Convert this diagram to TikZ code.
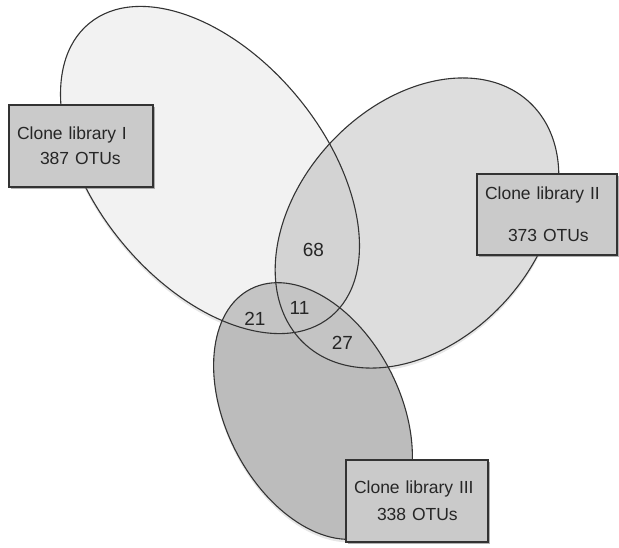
\documentclass[tikz,border=0pt]{standalone}
\usepackage{fontspec}
\setmainfont{Liberation Sans}
\usetikzlibrary{shadows}

\definecolor{toneI}{HTML}{F2F2F2}
\definecolor{toneII}{HTML}{DDDDDD}
\definecolor{toneIII}{HTML}{BCBCBC}
\definecolor{capAB}{HTML}{D3D3D3}
\definecolor{capC}{HTML}{C4C4C4}
\definecolor{rim}{HTML}{333333}
\definecolor{boxfill}{HTML}{CACACA}

\newcommand{\ovalA}{(210,170) ellipse [x radius=190, y radius=114]}
\newcommand{\ovalB}{(417,223) ellipse [x radius=165, y radius=118]}
\newcommand{\ovalC}{(313,411) ellipse [x radius=137, y radius=87]}

\begin{document}
\begin{tikzpicture}[x=1pt, y=-1pt,
	every node/.style={font=\fontsize{17.5}{21}\selectfont, text=black!85},
	turnA/.style={rotate around={-50.5:(210,170)}},
	turnB/.style={rotate around={47:(417,223)}},
	turnC/.style={rotate around={-63:(313,411)}},
	soft/.style={drop shadow={shadow xshift=0pt, shadow yshift=-3pt, opacity=0.2}},
	rimline/.style={draw=rim, line width=1.1pt},
	libbox/.style={rimline, fill=boxfill, minimum height=82pt, align=left, inner xsep=8pt,
		drop shadow={shadow xshift=1.5pt, shadow yshift=-1.5pt, fill=black!60, opacity=0.5}},
	count/.style={font=\fontsize{19}{22}\selectfont, inner sep=0pt}]
	\useasboundingbox (0,0) rectangle (619,547);
	% the three libraries
	\fill[toneI, turnA, soft] \ovalA;
	\fill[toneII, turnB, soft] \ovalB;
	\begin{scope}
		\clip[turnA] \ovalA;
		\fill[capAB, turnB] \ovalB;
	\end{scope}
	\fill[toneIII, turnC, soft] \ovalC;
	\begin{scope}
		\clip[turnC] \ovalC;
		\fill[capC, turnA] \ovalA;
		\fill[capC, turnB] \ovalB;
	\end{scope}
	\draw[rimline, turnA] \ovalA;
	\draw[rimline, turnB] \ovalB;
	\draw[rimline, turnC] \ovalC;
	% labels
	\node[libbox, text width=128pt] (libI) at (81,146) {Clone library I\\[4pt]\hspace*{23pt}387 OTUs};
	\node[libbox, text width=124pt, minimum height=81pt] (libII) at (547,214.5) {Clone library II\\[21pt]\hspace*{23pt}373 OTUs};
	\node[libbox, text width=126pt] (libIII) at (417,501) {Clone library III\\[6pt]\hspace*{23pt}338 OTUs};
	% shared OTUs
	\node[count] (nAB) at (313.5,249.5) {68};
	\node[count] (nABC) at (299.5,307.5) {11};
	\node[count] (nAC) at (255,318.5) {21};
	\node[count] (nBC) at (342.5,342.5) {27};
\end{tikzpicture}
\end{document}
